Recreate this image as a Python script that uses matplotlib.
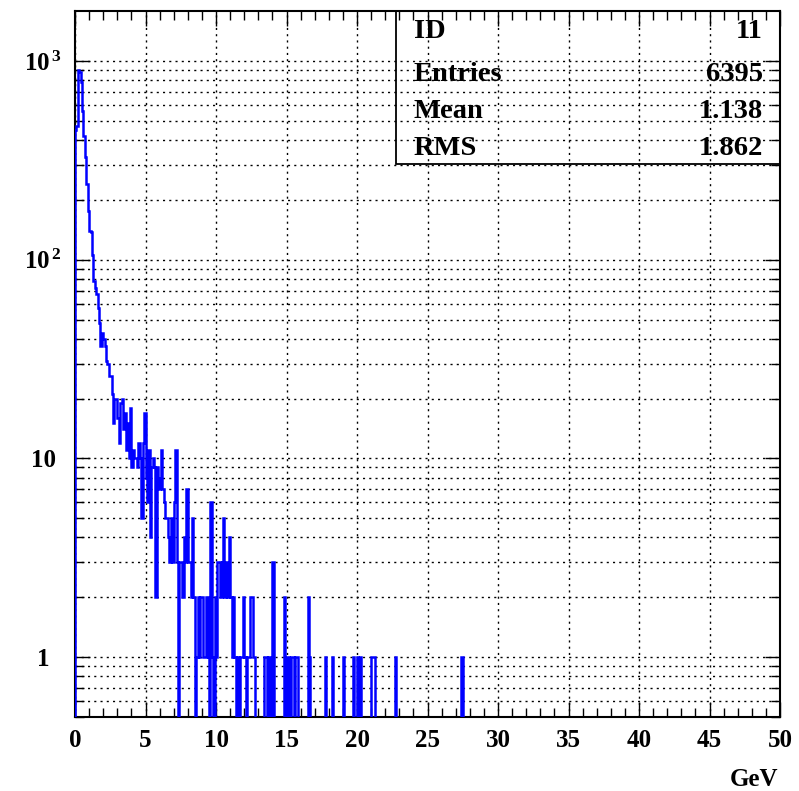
"""
Energy spectrum histogram (ID 11) drawn in the classic PAW/ROOT style:
log y axis, dotted grid, inward ticks on all four sides, stats box.
"""

import matplotlib
matplotlib.use("Agg")
import matplotlib.pyplot as plt
import numpy as np
from matplotlib import ticker
from matplotlib.patches import Rectangle

plt.rcParams["font.family"] = ["Liberation Serif", "DejaVu Serif"]
plt.rcParams["font.weight"] = "bold"
plt.rcParams["mathtext.fontset"] = "custom"
plt.rcParams["mathtext.rm"] = "Liberation Serif:bold"
plt.rcParams["mathtext.it"] = "Liberation Serif:bold"
plt.rcParams["mathtext.bf"] = "Liberation Serif:bold"

# Histogram definition: 500 bins of 0.1 GeV between 0 and 50 GeV
N_BINS = 500
X_MIN, X_MAX = 0.0, 50.0

# Bin contents for the first 141 bins (0 - 14.1 GeV)
counts_low = [
    450, 470, 900, 880, 790, 560, 420, 330, 240, 176,
    140, 138, 106, 78, 72, 67, 57, 48, 37, 43,
    40, 37, 31, 30, 26, 26, 21, 15, 20, 20,
    16, 12, 19, 20, 14, 17, 11, 15, 10, 18,
    9, 11, 10, 10, 9, 12, 10, 5, 12, 17,
    8, 6, 11, 4, 9, 10, 9, 2, 9, 7,
    8, 11, 7, 6, 5, 5, 4, 3, 5, 3,
    6, 11, 3, 0, 3, 3, 2, 4, 3, 7,
    3, 3, 2, 5, 2, 0, 1, 2, 1, 2,
    2, 1, 1, 2, 1, 0, 6, 1, 0, 2,
    1, 3, 3, 2, 3, 5, 2, 3, 2, 4,
    2, 1, 2, 1, 0, 1, 0, 1, 1, 2,
    1, 0, 1, 1, 2, 2, 1, 1, 0, 0,
    0, 0, 0, 0, 1, 1, 0, 1, 0, 0,
    3,
]

# Sparse high-energy tail: bin index and content
tail_bins = [148, 150, 151, 153, 154, 156, 157, 165, 166, 177,
             182, 190, 197, 200, 202, 210, 211, 212, 227, 274]
tail_counts = [2, 1, 1, 1, 1, 1, 1, 2, 1, 1,
               1, 1, 1, 1, 1, 1, 1, 1, 1, 1]

stats_labels = ["ID", "Entries", "Mean", "RMS"]
stats_values = ["11", "6395", "1.138", "1.862"]

y_tick_values = [1, 10, 100, 1000]
y_tick_labels = ["1", "10", r"$10^{\,2}$", r"$10^{\,3}$"]
x_label = "GeV"

Y_MIN, Y_MAX = 0.5, 1790


def build_counts():
    counts = np.zeros(N_BINS)
    counts[:len(counts_low)] = counts_low
    counts[tail_bins] = tail_counts
    return counts


def main():
    counts = build_counts()
    edges = np.linspace(X_MIN, X_MAX, N_BINS + 1)

    fig = plt.figure(figsize=(7.99, 7.91), dpi=100)
    W, H = 799, 791
    left, right, top, bottom = 75, 780, 11, 716.7
    ax = fig.add_axes([left / W, 1 - bottom / H, (right - left) / W, (bottom - top) / H])

    ax.set_yscale("log")
    ax.set_xlim(X_MIN, X_MAX)
    ax.set_ylim(Y_MIN, Y_MAX)

    # empty bins are pushed below the frame so the step drops to the bottom edge
    floor = 1e-2
    ax.stairs(np.where(counts > 0, counts, floor), edges, baseline=floor,
              color="#0000ff", linewidth=1.8, zorder=3)

    # grid: major x, major+minor y, dotted
    ax.xaxis.set_major_locator(ticker.MultipleLocator(5))
    ax.xaxis.set_minor_locator(ticker.MultipleLocator(1))
    ax.yaxis.set_major_locator(ticker.FixedLocator(y_tick_values))
    ax.yaxis.set_minor_locator(ticker.LogLocator(base=10, subs=np.arange(2, 10), numticks=20))
    ax.yaxis.set_minor_formatter(ticker.NullFormatter())
    ax.yaxis.set_major_formatter(ticker.FixedFormatter(y_tick_labels))
    ax.xaxis.set_major_formatter(ticker.FormatStrFormatter("%d"))

    grid_kw = dict(color="black", linewidth=1.0, linestyle=(0, (1.5, 3)))
    ax.grid(True, which="major", axis="x", **grid_kw)
    ax.grid(True, which="both", axis="y", **grid_kw)
    ax.set_axisbelow(True)

    ax.tick_params(which="both", direction="in", top=True, right=True,
                   color="black", width=1.0)
    ax.tick_params(which="major", length=11)
    ax.tick_params(which="minor", length=6.5)
    ax.tick_params(axis="x", which="major", labelsize=18, pad=9)
    ax.tick_params(axis="y", which="major", labelsize=18, pad=23)
    for lbl in ax.get_xticklabels():
        lbl.set_fontweight("bold")
    for lbl in ax.get_yticklabels():
        lbl.set_fontweight("bold")
        lbl.set_horizontalalignment("center")

    for side in ax.spines.values():
        side.set_linewidth(1.5)

    # stats box in the top right corner (grid stays visible through it)
    bx0 = (396 - left) / (right - left)
    by0 = (bottom - 164) / (bottom - top)
    ax.add_patch(Rectangle((bx0, by0), 1 - bx0, 1 - by0, transform=ax.transAxes,
                           fill=False, edgecolor="black", linewidth=1.3,
                           clip_on=False, zorder=4))
    row_base = [38, 81, 118, 155]
    for lab, val, yb in zip(stats_labels, stats_values, row_base):
        ya = (bottom - yb) / (bottom - top)
        ax.text((414 - left) / (right - left), ya, lab, transform=ax.transAxes,
                ha="left", va="baseline", fontsize=20.5, fontweight="bold", zorder=5)
        ax.text((763 - left) / (right - left), ya, val, transform=ax.transAxes,
                ha="right", va="baseline", fontsize=20.5, fontweight="bold", zorder=5)

    fig.text(778 / W, 1 - 786 / H, x_label, ha="right", va="baseline",
             fontsize=18, fontweight="bold")

    fig.savefig("out.png", dpi=100, facecolor="white")
    plt.close(fig)


if __name__ == "__main__":
    main()
